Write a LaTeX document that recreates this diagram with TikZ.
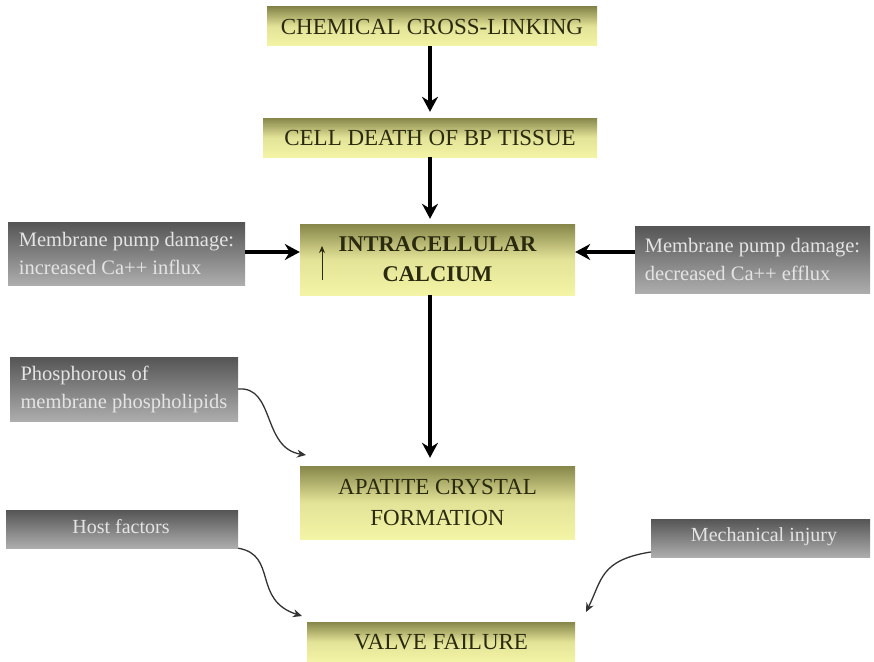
\documentclass[tikz,border=0pt]{standalone}
\usepackage{fontspec}
\setmainfont{Liberation Serif}
\usetikzlibrary{arrows.meta}
\definecolor{olivetop}{HTML}{86864A}
\definecolor{yellowbot}{HTML}{F4F4A6}
\definecolor{graytop}{HTML}{555555}
\definecolor{graybot}{HTML}{ADADAD}
\definecolor{darktext}{HTML}{2A2A10}
\definecolor{lighttext}{HTML}{E4E4E4}
\tikzset{
  ybox/.style={rectangle, inner sep=0pt, top color=olivetop, bottom color=yellowbot, middle color=yellowbot!85!olivetop, text=darktext, font=\fontsize{23}{27}\selectfont, align=center},
  gbox/.style={rectangle, inner sep=0pt, top color=graytop, bottom color=graybot, text=lighttext, font=\fontsize{20.5}{28}\selectfont},
  mainarrow/.style={line width=3.4pt, -{Stealth[length=15pt,width=16pt]}},
  curved/.style={line width=1.3pt, draw=black!80, -{Stealth[length=9pt,width=8pt]}}
}
\begin{document}
\begin{tikzpicture}[x=1pt,y=-1pt]
\useasboundingbox (0,0) rectangle (874,661);
\fill[white] (0,0) rectangle (874,661);
% main boxes
\node[ybox, minimum width=330pt, minimum height=39pt] (chem) at (432,26.5) {CHEMICAL CROSS-LINKING};
\node[ybox, minimum width=334pt, minimum height=39pt] (death) at (430,137.5) {CELL DEATH OF BP TISSUE};
\node[ybox, minimum width=275pt, minimum height=71pt, font=\bfseries\fontsize{22.5}{30}\selectfont] (calc) at (437.5,259.5) {INTRACELLULAR\\CALCIUM};
\node[ybox, minimum width=275pt, minimum height=73pt, font=\fontsize{23}{31}\selectfont] (apat) at (437.5,502.5) {APATITE CRYSTAL\\FORMATION};
\node[ybox, minimum width=268pt, minimum height=40pt] (valve) at (441,642) {VALVE FAILURE};
% small arrow inside calcium box
\coordinate (upA) at (322,280);
\coordinate (upB) at (322,246);
\draw[line width=0.9pt, draw=darktext, -{Stealth[length=7pt,width=6pt]}] (upA) -- (upB);
% gray boxes
\node[gbox, minimum width=237pt, minimum height=63pt, align=left] (left) at (126.5,253.5) {Membrane pump damage:\\increased Ca++ influx};
\node[gbox, minimum width=235pt, minimum height=67pt, align=left] (right) at (752.5,259.5) {Membrane pump damage:\\decreased Ca++ efflux};
\node[gbox, minimum width=228pt, minimum height=64pt] (phos) at (124,389) {};
\node[text=lighttext, font=\fontsize{20.5}{28}\selectfont, align=left, anchor=west] (phost) at (17,389) {Phosphorous of\\membrane phospholipids};
\node[gbox, minimum width=232pt, minimum height=38pt] (host) at (122,529) {};
\node[text=lighttext, font=\fontsize{20}{22}\selectfont] (hostt) at (121,527) {Host factors};
\node[gbox, minimum width=219pt, minimum height=38pt] (mech) at (760.5,538) {};
\node[text=lighttext, font=\fontsize{20}{22}\selectfont] (mecht) at (764,537) {Mechanical injury};
% main arrows
\draw[mainarrow, shorten >=6pt] (chem.south -| 430,0) -- (death.north -| 430,0);
\draw[mainarrow, shorten >=5pt] (death.south -| 430,0) -- (calc.north -| 430,0);
\draw[mainarrow, shorten >=8pt] (calc.south -| 430,0) -- (apat.north -| 430,0);
\draw[mainarrow] (left.east |- 0,252) -- (calc.west |- 0,252);
\draw[mainarrow] (right.west |- 0,252) -- (calc.east |- 0,252);
% curved arrows
\coordinate (phosEnd) at (306,455);
\coordinate (hostEnd) at (302,616);
\coordinate (mechEnd) at (586,612);
\draw[curved] (phos.east |- 0,389) .. controls (275,386) and (262,448) .. (phosEnd);
\draw[curved] (host.south east) .. controls (278,555) and (252,600) .. (hostEnd);
\draw[curved] (mech.south west |- 0,552) .. controls (600,560) and (602,580) .. (mechEnd);
\end{tikzpicture}
\end{document}
